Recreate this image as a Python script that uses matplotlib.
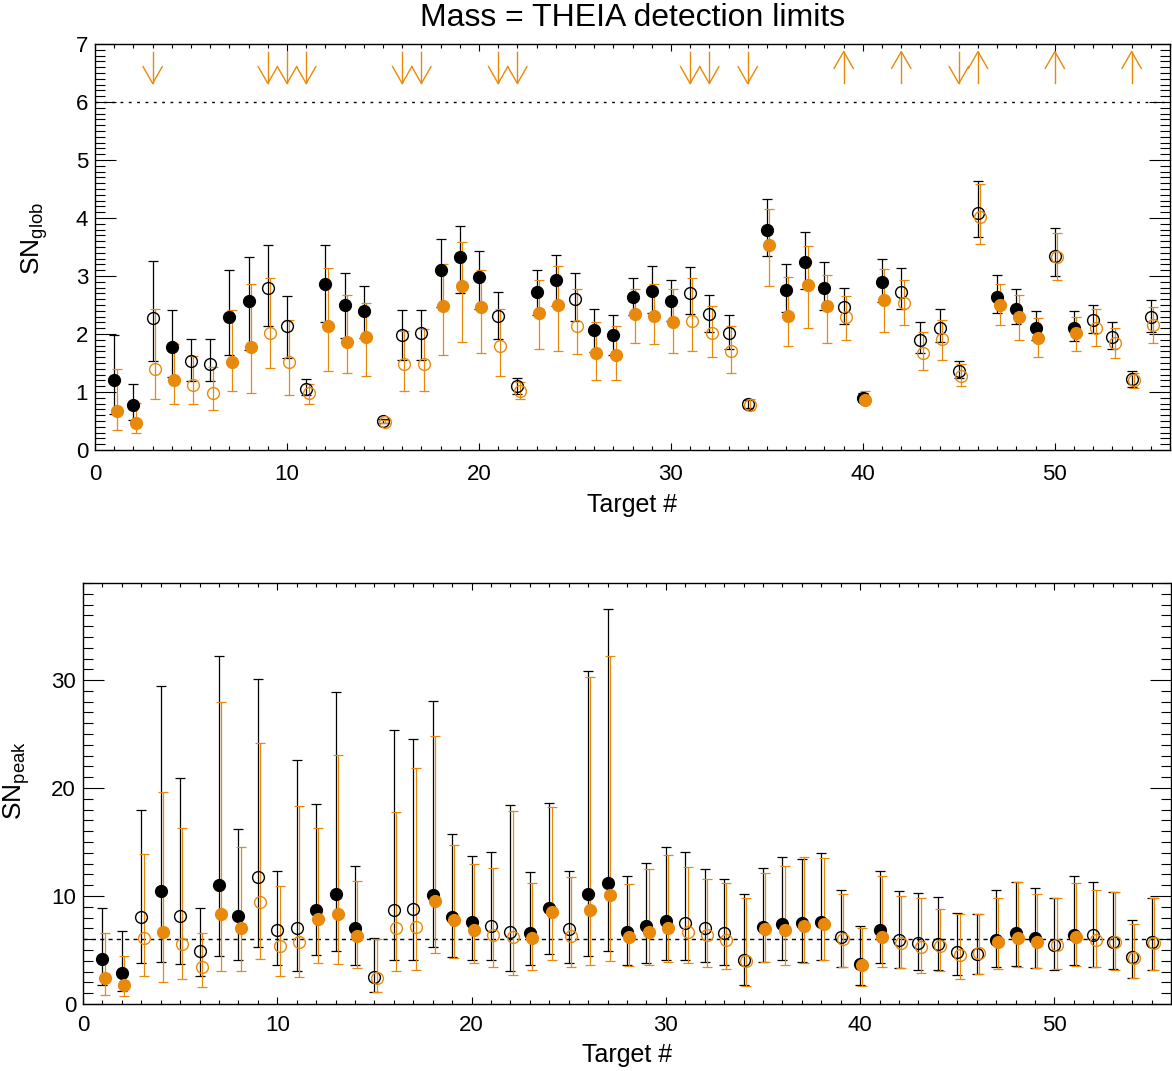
import numpy as np
import matplotlib
matplotlib.use("Agg")
import matplotlib.pyplot as plt
from matplotlib.ticker import MultipleLocator

plt.rcParams['font.family'] = ['Liberation Sans', 'DejaVu Sans']
plt.rcParams['mathtext.fontset'] = 'custom'
plt.rcParams['mathtext.rm'] = 'Liberation Sans'

# Data

targets = np.arange(1, 56)
filled_targets = [1, 2, 4, 7, 8, 12, 13, 14, 18, 19, 20, 23, 24, 26, 27, 28, 29, 30,
                  35, 36, 37, 38, 40, 41, 47, 48, 49, 51]
down_arrows = [3, 9, 10, 11, 16, 17, 21, 22, 31, 32, 34, 45]
up_arrows = [39, 42, 46, 50, 54]

# SN_glob, black series: value, lower end, upper end
glob_k = [1.21, 0.78, 2.27, 1.78, 1.53, 1.49, 2.30, 2.57, 2.79, 2.13, 1.06, 2.87, 2.50, 2.40,
          0.50, 1.99, 2.01, 3.11, 3.32, 2.98, 2.31, 1.10, 2.73, 2.93, 2.60, 2.07, 1.98, 2.63,
          2.75, 2.57, 2.70, 2.34, 2.01, 0.79, 3.79, 2.76, 3.24, 2.80, 2.47, 0.89, 2.90, 2.72,
          1.90, 2.10, 1.37, 4.08, 2.64, 2.44, 2.11, 3.34, 2.11, 2.24, 1.95, 1.22, 2.29]
glob_k_lo = [0.62, 0.52, 1.53, 1.26, 1.19, 1.19, 1.64, 1.72, 2.14, 1.59, 0.95, 2.21, 1.93, 1.94,
             0.47, 1.56, 1.56, 2.47, 2.71, 2.43, 1.91, 0.97, 2.32, 2.48, 2.23, 1.69, 1.64, 2.33,
             2.37, 2.23, 2.34, 2.04, 1.74, 0.72, 3.34, 2.38, 2.77, 2.41, 2.18, 0.82, 2.56, 2.44,
             1.68, 1.86, 1.24, 3.67, 2.36, 2.18, 1.90, 3.00, 1.88, 2.01, 1.74, 1.08, 2.03]
glob_k_hi = [1.98, 1.13, 3.26, 2.41, 1.92, 1.92, 3.11, 3.32, 3.53, 2.66, 1.22, 3.53, 3.05, 2.83,
             0.53, 2.41, 2.41, 3.63, 3.86, 3.43, 2.72, 1.25, 3.11, 3.36, 3.05, 2.43, 2.33, 2.97,
             3.18, 2.94, 3.16, 2.68, 2.32, 0.86, 4.32, 3.20, 3.76, 3.24, 2.80, 0.98, 3.30, 3.13,
             2.20, 2.43, 1.54, 4.64, 3.01, 2.77, 2.40, 3.83, 2.40, 2.50, 2.20, 1.37, 2.59]

# SN_glob, orange series
glob_o = [0.68, 0.46, 1.39, 1.20, 1.12, 0.99, 1.52, 1.77, 2.01, 1.51, 0.98, 2.13, 1.87, 1.95,
          0.49, 1.48, 1.48, 2.49, 2.83, 2.47, 1.80, 1.02, 2.37, 2.50, 2.14, 1.67, 1.64, 2.34,
          2.31, 2.20, 2.23, 2.01, 1.71, 0.78, 3.53, 2.31, 2.84, 2.49, 2.30, 0.86, 2.59, 2.54,
          1.68, 1.91, 1.28, 4.02, 2.50, 2.29, 1.94, 3.32, 2.01, 2.10, 1.84, 1.21, 2.16]
glob_o_lo = [0.34, 0.29, 0.88, 0.80, 0.79, 0.69, 1.01, 0.98, 1.41, 0.95, 0.80, 1.36, 1.33, 1.28,
             0.46, 1.01, 1.01, 1.64, 1.86, 1.67, 1.28, 0.88, 1.74, 1.71, 1.66, 1.21, 1.20, 1.84,
             1.83, 1.68, 1.71, 1.60, 1.32, 0.69, 2.83, 1.79, 2.10, 1.84, 1.90, 0.80, 2.03, 2.16,
             1.38, 1.55, 1.10, 3.56, 2.16, 1.90, 1.61, 2.94, 1.71, 1.79, 1.58, 1.07, 1.84]
glob_o_hi = [1.39, 0.81, 2.43, 1.83, 1.62, 1.44, 2.41, 2.86, 2.96, 2.24, 1.13, 3.13, 2.67, 2.54,
             0.52, 2.05, 2.08, 3.20, 3.59, 3.10, 2.43, 1.18, 2.93, 3.18, 2.78, 2.21, 2.14, 2.77,
             2.87, 2.77, 2.96, 2.48, 2.14, 0.88, 4.15, 2.98, 3.52, 3.01, 2.66, 1.01, 3.12, 2.94,
             2.04, 2.24, 1.48, 4.59, 2.87, 2.67, 2.28, 3.75, 2.30, 2.44, 2.10, 1.33, 2.46]

# SN_peak, black series
peak_k = [4.15, 2.86, 8.03, 10.46, 8.15, 4.86, 11.02, 8.15, 11.78, 6.86, 7.02, 8.71, 10.19, 7.02,
          2.46, 8.71, 8.80, 10.06, 8.09, 7.57, 7.26, 6.70, 6.61, 8.92, 6.95, 10.16, 11.17, 6.70,
          7.26, 7.69, 7.48, 7.02, 6.61, 4.09, 7.11, 7.41, 7.54, 7.63, 6.24, 3.72, 6.86, 5.88,
          5.63, 5.57, 4.77, 4.64, 5.88, 6.61, 6.15, 5.48, 6.40, 6.40, 5.78, 4.34, 5.72]
peak_k_lo = [1.78, 1.16, 3.79, 3.93, 3.72, 2.61, 4.46, 4.03, 5.23, 3.63, 3.01, 4.49, 4.95, 3.57,
             1.07, 4.03, 4.09, 5.26, 4.31, 4.09, 4.03, 3.01, 3.57, 4.62, 3.79, 4.40, 4.86, 3.63,
             3.84, 4.03, 4.09, 3.88, 3.57, 1.72, 3.93, 4.09, 3.93, 4.03, 3.44, 1.78, 3.79, 3.32,
             3.10, 3.17, 2.64, 2.80, 3.38, 3.54, 3.32, 3.17, 3.57, 3.38, 3.23, 2.40, 3.17]
peak_k_hi = [8.92, 6.77, 17.94, 29.45, 20.9, 8.86, 32.2, 16.25, 30.07, 12.34, 22.56, 18.56, 28.87,
             12.8, 6.09, 25.35, 24.53, 28.1, 15.70, 13.69, 14.03, 18.4, 12.19, 18.62, 12.31,
             30.87, 36.57, 11.85, 13.08, 14.55, 14.03, 12.46, 11.57, 10.16, 12.62, 13.63, 13.39,
             14.0, 10.55, 7.26, 12.34, 10.48, 10.25, 9.88, 8.40, 8.37, 10.55, 11.32, 10.77, 9.84,
             11.85, 11.26, 10.40, 7.79, 9.79]

# SN_peak, orange series
peak_o = [2.40, 1.78, 6.09, 6.65, 5.57, 3.38, 8.31, 7.02, 9.42, 5.41, 5.78, 7.85, 8.31, 6.31,
          2.40, 7.07, 7.17, 9.54, 7.78, 6.86, 6.37, 6.24, 6.15, 8.49, 6.31, 8.71, 10.09, 6.24,
          6.65, 7.02, 6.70, 6.40, 5.94, 3.97, 6.92, 6.83, 7.23, 7.39, 6.00, 3.57, 6.24, 5.69,
          5.32, 5.41, 4.55, 4.71, 5.72, 6.15, 5.78, 5.48, 6.18, 5.94, 5.78, 4.25, 5.63]
peak_o_lo = [0.86, 0.77, 2.55, 1.99, 2.31, 1.57, 3.01, 3.01, 4.15, 2.61, 2.46, 3.79, 3.69, 3.32,
             1.07, 3.01, 3.17, 4.71, 4.25, 3.84, 3.38, 2.71, 3.17, 4.09, 3.38, 3.57, 3.97, 3.54,
             3.63, 3.88, 3.79, 3.38, 3.23, 1.69, 3.93, 3.63, 3.84, 4.03, 3.38, 1.69, 3.38, 3.32,
             2.86, 3.01, 2.31, 2.80, 3.23, 3.44, 3.32, 3.23, 3.48, 3.38, 3.10, 2.40, 3.17]
peak_o_hi = [6.55, 4.40, 13.85, 19.63, 16.3, 6.55, 28.0, 14.55, 24.19, 10.92, 18.37, 16.34, 23.02,
             11.39, 6.00, 17.78, 21.88, 24.84, 14.77, 12.93, 12.56, 17.85, 11.23, 18.25, 11.73,
             30.31, 32.19, 11.08, 12.49, 13.79, 12.71, 11.54, 11.17, 9.84, 12.1, 12.8, 13.57,
             13.48, 10.16, 7.02, 11.88, 10.0, 9.79, 8.77, 8.31, 8.31, 9.79, 11.26, 10.16, 9.79,
             11.23, 10.55, 10.40, 7.39, 9.84]

ORANGE = '#e8890c'
OFFSET = 0.12      # orange series is drawn slightly to the right
THRESHOLD = 6


def draw_series(ax, x, val, lo, hi, color, filled):
    val = np.asarray(val)
    lo = np.asarray(lo)
    hi = np.asarray(hi)
    ax.errorbar(x, val, yerr=[val - lo, hi - val], fmt='none', ecolor=color,
                elinewidth=0.9, capsize=3.3, capthick=0.9, zorder=2)
    ax.plot(x[filled], val[filled], 'o', color=color, ms=8.5, mec=color, zorder=3)
    ax.plot(x[~filled], val[~filled], 'o', mfc='none', mec=color, ms=8.5, mew=1.0, zorder=3)


def style_axes(ax, ymajor, yminor, xpad, ypad, ylen):
    ax.set_xlim(0, 56)
    ax.xaxis.set_major_locator(MultipleLocator(10))
    ax.xaxis.set_minor_locator(MultipleLocator(1))
    ax.yaxis.set_major_locator(MultipleLocator(ymajor))
    ax.yaxis.set_minor_locator(MultipleLocator(yminor))
    ax.tick_params(which='both', direction='in', top=True, right=True, labelsize=16)
    ax.tick_params(axis='x', which='major', length=5, width=0.8, pad=xpad)
    ax.tick_params(axis='x', which='minor', length=3, width=0.8)
    ax.tick_params(axis='y', which='major', length=ylen, width=0.8, pad=ypad)
    ax.tick_params(axis='y', which='minor', length=ylen / 2, width=0.8)
    for sp in ax.spines.values():
        sp.set_linewidth(1.0)


filled = np.isin(targets, filled_targets)

fig = plt.figure(figsize=(11.72, 10.71), dpi=100)

# ---- top panel: SN_glob
ax1 = fig.add_axes([0.0811, 0.5798, 0.9172, 0.3791])
ax1.axhline(THRESHOLD, color='k', lw=1.0, ls=(0, (2, 4)), zorder=1)
draw_series(ax1, targets.astype(float), glob_k, glob_k_lo, glob_k_hi, 'k', filled)
draw_series(ax1, targets + OFFSET, glob_o, glob_o_lo, glob_o_hi, ORANGE, filled)

# arrows for targets outside of the detection range
a_lo, a_hi, head_w, head_h = 6.32, 6.87, 0.5, 0.29
for t in down_arrows:
    ax1.plot([t, t], [a_lo, a_hi], color=ORANGE, lw=1.0)
    ax1.plot([t - head_w, t, t + head_w], [a_lo + head_h, a_lo, a_lo + head_h], color=ORANGE, lw=1.0)
for t in up_arrows:
    ax1.plot([t, t], [a_lo, a_hi], color=ORANGE, lw=1.0)
    ax1.plot([t - head_w, t, t + head_w], [a_hi - head_h, a_hi, a_hi - head_h], color=ORANGE, lw=1.0)

ax1.set_ylim(0, 7)
style_axes(ax1, 1, 0.1, xpad=10, ypad=5, ylen=15)
ax1.set_xlabel('Target #', fontsize=18)
ax1.xaxis.set_label_coords(0.5, -0.105)
ax1.set_ylabel(r'SN$_{\rm glob}$', fontsize=19)
ax1.yaxis.set_label_coords(-0.042, 0.52)

# ---- bottom panel: SN_peak
ax2 = fig.add_axes([0.0708, 0.0626, 0.9283, 0.3931])
ax2.axhline(THRESHOLD, color='k', lw=1.0, ls=(0, (3, 3)), zorder=1)
draw_series(ax2, targets.astype(float), peak_k, peak_k_lo, peak_k_hi, 'k', filled)
draw_series(ax2, targets + OFFSET, peak_o, peak_o_lo, peak_o_hi, ORANGE, filled)
ax2.set_ylim(0, 39)
style_axes(ax2, 10, 1, xpad=8, ypad=5, ylen=15)
ax2.set_xlabel('Target #', fontsize=18)
ax2.xaxis.set_label_coords(0.5, -0.093)
ax2.set_ylabel(r'SN$_{\rm peak}$', fontsize=19)
ax2.yaxis.set_label_coords(-0.047, 0.53)

fig.text(0.540, 1 - 18 / 1071, 'Mass = THEIA detection limits', fontsize=23,
         ha='center', va='center')

fig.savefig('out.png', dpi=100)
